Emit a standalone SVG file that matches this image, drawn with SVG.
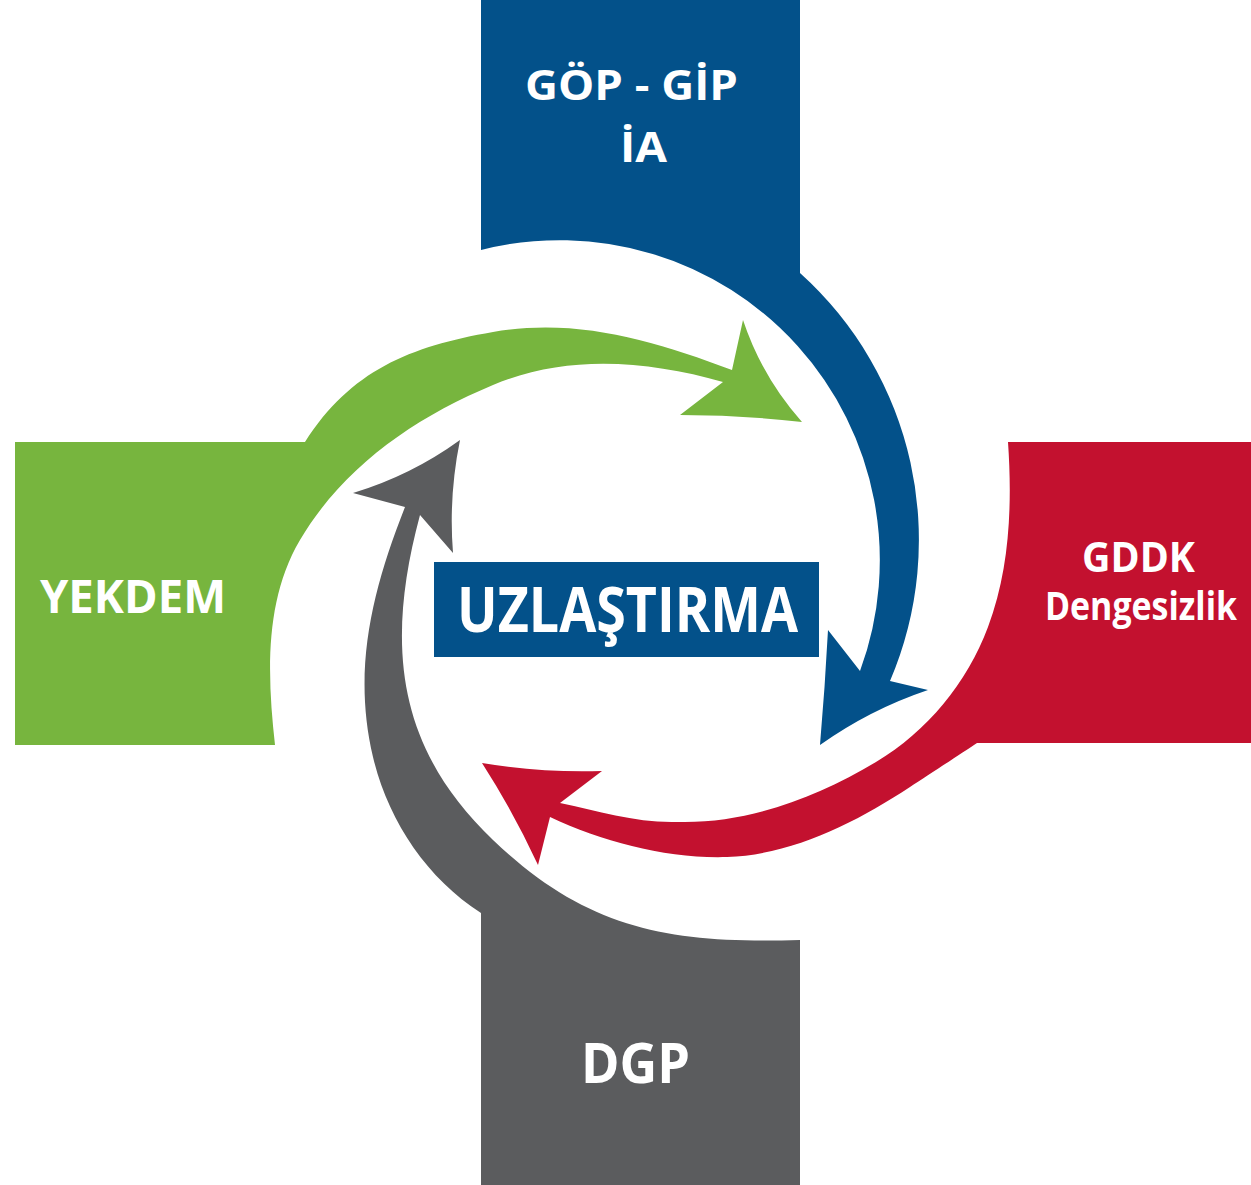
<svg xmlns="http://www.w3.org/2000/svg" width="1251" height="1185" viewBox="0 0 1251 1185">
<style>
.lbl{font-family:"Open Sans","Liberation Sans",sans-serif;font-weight:700;fill:#ffffff;text-anchor:middle}
.blue{fill:#03518A}
.green{fill:#77B53E}
.red{fill:#C3112F}
.gray{fill:#5B5C5E}
</style>
<rect width="1251" height="1185" fill="#ffffff"/>
<g id="node-gop">
<path class="blue" d="M481,0 L800,0 L800,273 A359,359 0 0 1 890,681 L928,690 Q870,709.5 820,745 Q825,687 828,630 L860,671 A320,320 0 0 0 481,250 Z"/>
<text class="lbl" x="631.5" y="100" font-size="42" textLength="213" lengthAdjust="spacingAndGlyphs">GÖP - GİP</text>
<text class="lbl" x="643.5" y="162" font-size="41" textLength="47" lengthAdjust="spacingAndGlyphs">İA</text>
</g>
<g id="node-gddk">
<path class="red" d="M1251,442 L1008,442 C1012.3,503.9 1009.9,569 988,627 C966.8,683.1 927.5,731.2 876,762 C815.9,797.9 747,824.1 677,822 C637,823.2 599.2,811.2 560,803 L602,771 Q542,773 482,763 Q513.5,812 538,865 L550,817 C604.4,842.3 667,858.8 727,857 C792,855 855.7,822.6 910,787 C928.4,775 958.7,755.2 977,743 L1251,743 Z"/>
<text class="lbl" x="1138.5" y="572" font-size="42" textLength="113" lengthAdjust="spacingAndGlyphs">GDDK</text>
<text class="lbl" x="1141" y="620" font-size="39" textLength="192" lengthAdjust="spacingAndGlyphs">Dengesizlik</text>
</g>
<g id="node-dgp">
<path class="gray" d="M481,1185 L481,913 C426.4,877.9 388,820.2 373,757 C352.3,669.4 372.1,590.7 405,507 L353,493 Q411,475.5 460,440 Q448.5,496.5 453,553 L420,515 C383.6,650 399.4,750.3 493,840 C586.6,929.7 670,944 800,940 L800,1185 Z"/>
<text class="lbl" x="635.5" y="1083" font-size="56" textLength="109" lengthAdjust="spacingAndGlyphs">DGP</text>
</g>
<g id="node-yekdem">
<path class="green" d="M15,442 L305,442 C350.9,370.6 409.3,346.5 493,332 C576.7,317.5 652.4,340.2 732,370 L743,320 Q762,377 802,422 Q741,415 680,415 L723,382 C645.9,360.5 566.8,354.2 493,385 C414.5,417.7 343.3,466.8 300,540 C264.4,600.3 267.2,675.4 275,745 L15,745 Z"/>
<text class="lbl" x="133" y="613" font-size="46" textLength="186" lengthAdjust="spacingAndGlyphs">YEKDEM</text>
</g>
<g id="node-uzlastirma">
<rect class="blue" x="434" y="562" width="385" height="95"/>
<text class="lbl" x="627.5" y="632" font-size="63" textLength="341" lengthAdjust="spacingAndGlyphs">UZLAŞTIRMA</text>
</g>
</svg>
